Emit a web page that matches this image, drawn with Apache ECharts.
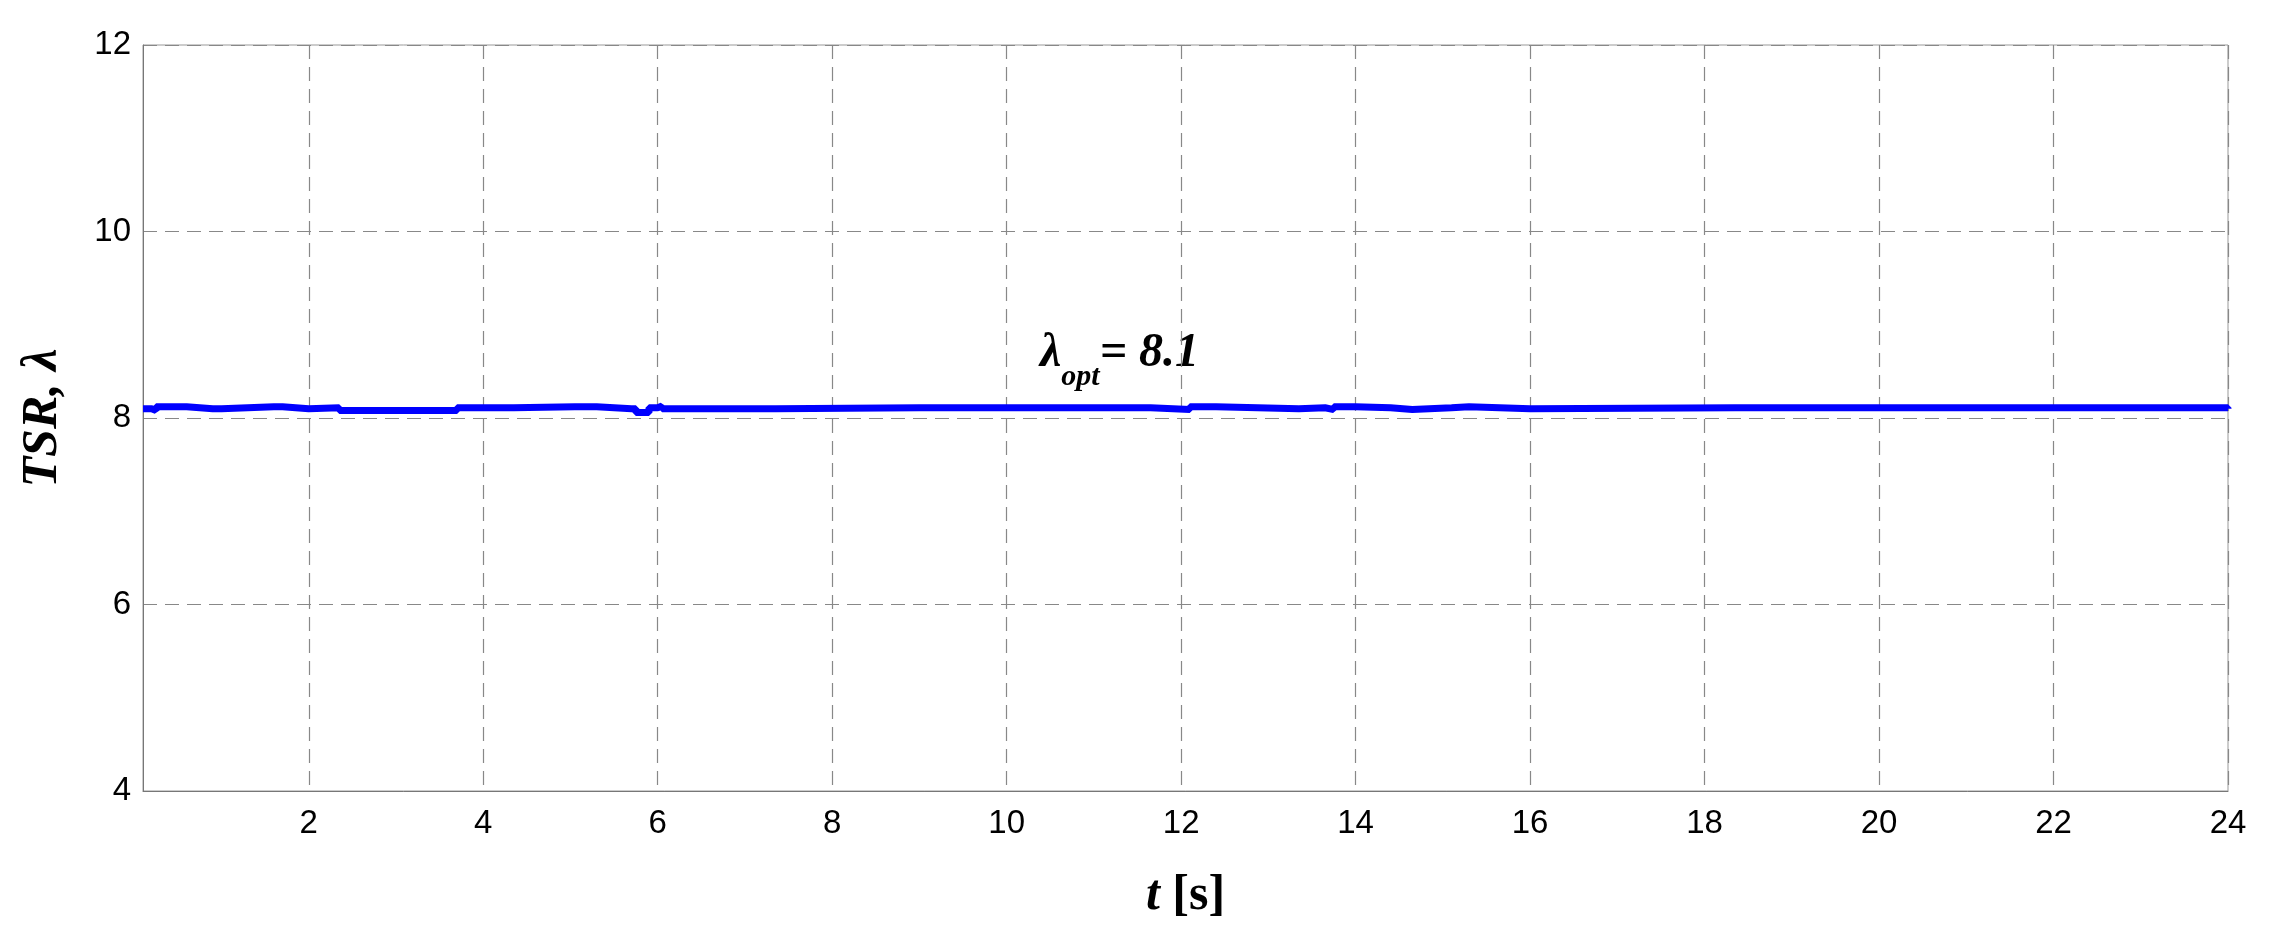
<!DOCTYPE html><html><head><meta charset="utf-8">
<script src="https://cdn.jsdelivr.net/npm/echarts@6/dist/echarts.min.js"></script>
<style>html,body{margin:0;background:#fff}#c{width:2275px;height:946px}</style></head><body><div id="c"></div>
<script>
const timeS = [0.1,0.2,0.25,0.55,0.6,0.9,1.0,1.6,1.7,2.0,2.35,3.7,4.35,5.05,5.3,5.7,5.75,5.9,6.0,6.05,7.35,9.0,9.7,11.3,11.65,12.1,12.4,13.35,13.65,13.75,14.0,14.4,14.65,15.1,15.3,16.0,18.35,20.0,24.0];
const tsr   = [8.1,8.08,8.12,8.12,8.1,8.1,8.12,8.12,8.1,8.11,8.08,8.11,8.12,8.12,8.1,8.1,8.06,8.11,8.13,8.1,8.11,8.11,8.11,8.11,8.09,8.12,8.1,8.11,8.09,8.12,8.11,8.09,8.11,8.12,8.1,8.11,8.11,8.11,8.1];
const xTicks = [2,4,6,8,10,12,14,16,18,20,22,24];
const annotation = 'λ';
const chart = echarts.init(document.getElementById('c'));
chart.setOption({
  animation:false,
  grid:{left:143,right:47,top:45,bottom:155},
  xAxis:{type:'value',min:0.1,max:24,
    name:'{i|t} [s]',nameLocation:'middle',nameGap:80,
    nameTextStyle:{fontFamily:'Liberation Serif',fontSize:50,fontWeight:'bold',color:'#000',rich:{i:{fontStyle:'italic',fontFamily:'Liberation Serif',fontSize:50,fontWeight:'bold'}}},
    axisLine:{lineStyle:{color:'#777'}},
    axisTick:{show:false,customValues:xTicks},
    axisLabel:{customValues:xTicks,fontFamily:'Liberation Sans',fontSize:33,color:'#000',margin:16},
    splitLine:{show:true,lineStyle:{type:[14,8],color:'#888',width:1.2}}},
  yAxis:{type:'value',min:4,max:12,interval:2,
    name:'TSR, λ',nameLocation:'middle',nameGap:75,
    nameTextStyle:{fontFamily:'Liberation Serif',fontSize:50,fontWeight:'bold',fontStyle:'italic',color:'#000'},
    axisLine:{show:true,lineStyle:{color:'#777'}},axisTick:{show:false},
    axisLabel:{fontFamily:'Liberation Sans',fontSize:33,color:'#000',margin:12},
    splitLine:{lineStyle:{type:[14,8],color:'#888',width:1.2}}},
  graphic:[{type:'rect',shape:{x:143,y:45,width:2085,height:746},style:{fill:'none',stroke:'#999',lineWidth:1}},
    {type:'text',left:1040,top:330,style:{rich:{a:{fontFamily:'Liberation Serif',fontSize:48,fontWeight:'bold',fontStyle:'italic'},s:{fontFamily:'Liberation Serif',fontSize:30,fontWeight:'bold',fontStyle:'italic',verticalAlign:'bottom',padding:[0,0,-14,0]}},text:'{a|λ}{s|opt}{a|= 8.1}'}}],
  series:[{type:'line',step:'end',data:timeS.map((t,i)=>[t,tsr[i]]),symbol:'none',lineStyle:{color:'#0000ff',width:7}}]
});
</script></body></html>
